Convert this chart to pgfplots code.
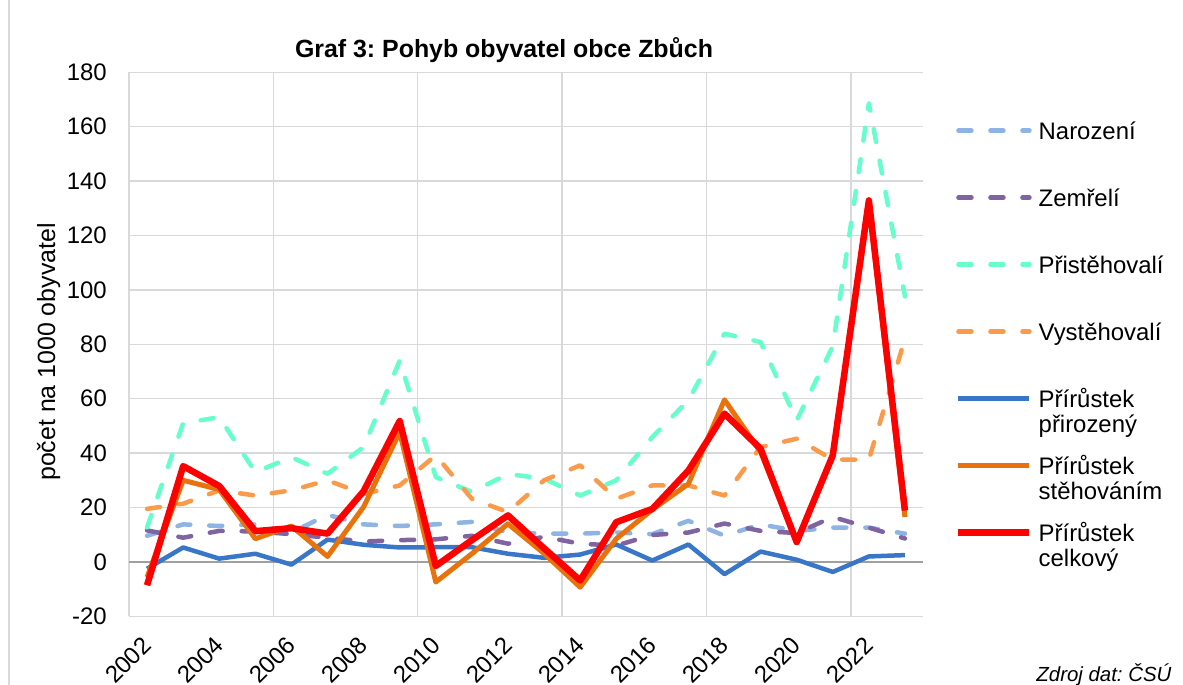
\documentclass[border=0pt]{standalone}
\usepackage{fontspec}
\setmainfont{Liberation Sans}
\usepackage{pgfplots}
\pgfplotsset{compat=1.18}
\frenchspacing

\definecolor{cNar}{HTML}{8EB4E3}
\definecolor{cZem}{HTML}{8064A2}
\definecolor{cPri}{HTML}{66FFCC}
\definecolor{cVys}{HTML}{F99B4A}
\definecolor{cPrir}{HTML}{3A76C8}
\definecolor{cSteh}{HTML}{E8730C}
\definecolor{cCel}{HTML}{FF0000}
\definecolor{gridc}{HTML}{D9D9D9}
\definecolor{zeroc}{HTML}{A0A0A0}

\begin{document}
\begin{tikzpicture}
\useasboundingbox (0bp,0bp) rectangle (1183bp,685bp);
\draw[gridc, line width=1.5bp] (9bp,0bp) -- (9bp,685bp);
\node[font=\fontsize{25}{29}\selectfont\bfseries, anchor=base] at (504bp,627bp) {Graf 3: Pohyb obyvatel obce Zbůch};
\node[font=\fontsize{25}{28}\selectfont, rotate=90, anchor=base] at (55bp,333bp) {počet na 1000 obyvatel};
\node[font=\fontsize{20.5}{23}\selectfont\itshape, anchor=base east] at (1175bp,4bp) {Zdroj dat: ČSÚ};
\begin{axis}[
  at={(129bp,68.7bp)}, anchor=south west,
  scale only axis, width=794bp, height=544bp,
  xmin=2001.5, xmax=2023.5, ymin=-20, ymax=180,
  axis line style={draw=none},
  xtick={2002,2004,2006,2008,2010,2012,2014,2016,2018,2020,2022},
  xticklabels={2002,2004,2006,2008,2010,2012,2014,2016,2018,2020,2022},
  ytick={-20,0,20,40,60,80,100,120,140,160,180},
  major tick length=0pt,
  ymajorgrids,
  grid style={gridc, line width=1.5bp},
  extra x ticks={2001.5,2005.5,2009.5,2013.5,2017.5,2021.5},
  extra x tick labels={},
  extra x tick style={grid=major},
  /pgf/number format/assume math mode=true,
  yticklabel style={font=\fontsize{24}{26}\selectfont, anchor=east, inner sep=0pt, xshift=-22bp},
  xticklabel style={font=\fontsize{24}{26}\selectfont, xshift=0bp, yshift=-25bp, rotate=45, anchor=east, inner sep=0pt},
  legend style={at={(axis description cs:1.0403,0.9142)}, anchor=north west, draw=none, fill=none,
    inner sep=0pt, row sep=15bp, column sep=6bp,
    font=\fontsize{24}{25}\selectfont,
    nodes={text height=20bp, text depth=32bp, inner sep=0pt, anchor=base west}},
  legend cell align=left,
  legend image code/.code={\draw[#1] (0bp,8.5bp) -- (71bp,8.5bp);},
  every axis plot/.append style={line join=round},
  clip=false,
]
\draw[zeroc, line width=2bp] (axis cs:2001.5,0) -- (axis cs:2023.5,0);

\addplot[cNar, line width=4.5bp, dash pattern=on 13bp off 19bp, line cap=round] coordinates {
(2002,9.6) (2003,13.8) (2004,13.2) (2005,13.8) (2006,10.8) (2007,17.3) (2008,13.8) (2009,13.2)
(2010,13.8) (2011,14.7) (2012,10.8) (2013,10.4) (2014,10.4) (2015,10.8) (2016,10.2) (2017,15.1)
(2018,9.6) (2019,13.8) (2020,11.4) (2021,12.6) (2022,12.6) (2023,10.4)};
\addlegendentry{Narození}

\addplot[cZem, line width=4.5bp, dash pattern=on 13bp off 19bp, line cap=round] coordinates {
(2002,11.6) (2003,8.9) (2004,11.4) (2005,11.2) (2006,10.2) (2007,8.9) (2008,7.5) (2009,8.0)
(2010,8.3) (2011,9.6) (2012,6.7) (2013,9.2) (2014,6.7) (2015,6.0) (2016,9.9) (2017,10.8)
(2018,14.1) (2019,11.4) (2020,10.6) (2021,16.5) (2022,12.6) (2023,8.6)};
\addlegendentry{Zemřelí}

\addplot[cPri, line width=4.5bp, dash pattern=on 13bp off 19bp, line cap=round] coordinates {
(2002,12.7) (2003,51.0) (2004,53.2) (2005,33.0) (2006,38.5) (2007,32.4) (2008,42.2) (2009,74.0)
(2010,31.2) (2011,25.7) (2012,32.3) (2013,30.6) (2014,24.4) (2015,30.0) (2016,45.9) (2017,59.4)
(2018,83.9) (2019,80.8) (2020,52.0) (2021,79.3) (2022,168.6) (2023,97.6)};
\addlegendentry{Přistěhovalí}

\addplot[cVys, line width=4.5bp, dash pattern=on 13bp off 19bp, line cap=round] coordinates {
(2002,19.5) (2003,21.4) (2004,26.3) (2005,24.4) (2006,26.3) (2007,30.0) (2008,25.0) (2009,28.1)
(2010,39.2) (2011,23.2) (2012,18.3) (2013,30.0) (2014,35.5) (2015,23.2) (2016,28.1) (2017,28.1)
(2018,24.4) (2019,42.2) (2020,45.3) (2021,37.6) (2022,37.6) (2023,82.0)};
\addlegendentry{Vystěhovalí}

\addplot[cPrir, line width=4.5bp] coordinates {
(2002,-2.5) (2003,5.3) (2004,1.2) (2005,3.0) (2006,-1.0) (2007,8.2) (2008,6.3) (2009,5.3)
(2010,5.4) (2011,5.4) (2012,3.0) (2013,1.5) (2014,2.7) (2015,6.4) (2016,0.5) (2017,6.4)
(2018,-4.5) (2019,3.8) (2020,0.8) (2021,-3.7) (2022,2.0) (2023,2.5)};
\addlegendentry{\begin{tabular}[t]{@{}l@{}}Přírůstek\\přirozený\end{tabular}}

\addplot[cSteh, line width=5bp] coordinates {
(2002,-5.6) (2003,30.0) (2004,26.6) (2005,8.5) (2006,13.2) (2007,2.0) (2008,20.2) (2009,47.7)
(2010,-7.4) (2011,3.0) (2012,14.0) (2013,3.1) (2014,-9.3) (2015,8.5) (2016,19.2) (2017,28.7)
(2018,59.6) (2019,40.4) (2020,7.3) (2021,38.5) (2022,131.0) (2023,16.5)};
\addlegendentry{\begin{tabular}[t]{@{}l@{}}Přírůstek\\stěhováním\end{tabular}}

\addplot[cCel, line width=6.5bp] coordinates {
(2002,-8.6) (2003,35.2) (2004,27.9) (2005,11.3) (2006,12.4) (2007,10.4) (2008,26.0) (2009,51.8)
(2010,-1.5) (2011,8.0) (2012,17.1) (2013,5.0) (2014,-6.8) (2015,14.6) (2016,19.5) (2017,33.6)
(2018,54.5) (2019,41.6) (2020,7.3) (2021,39.2) (2022,132.9) (2023,18.9)};
\addlegendentry{\begin{tabular}[t]{@{}l@{}}Přírůstek\\celkový\end{tabular}}
\end{axis}
\end{tikzpicture}
\end{document}
